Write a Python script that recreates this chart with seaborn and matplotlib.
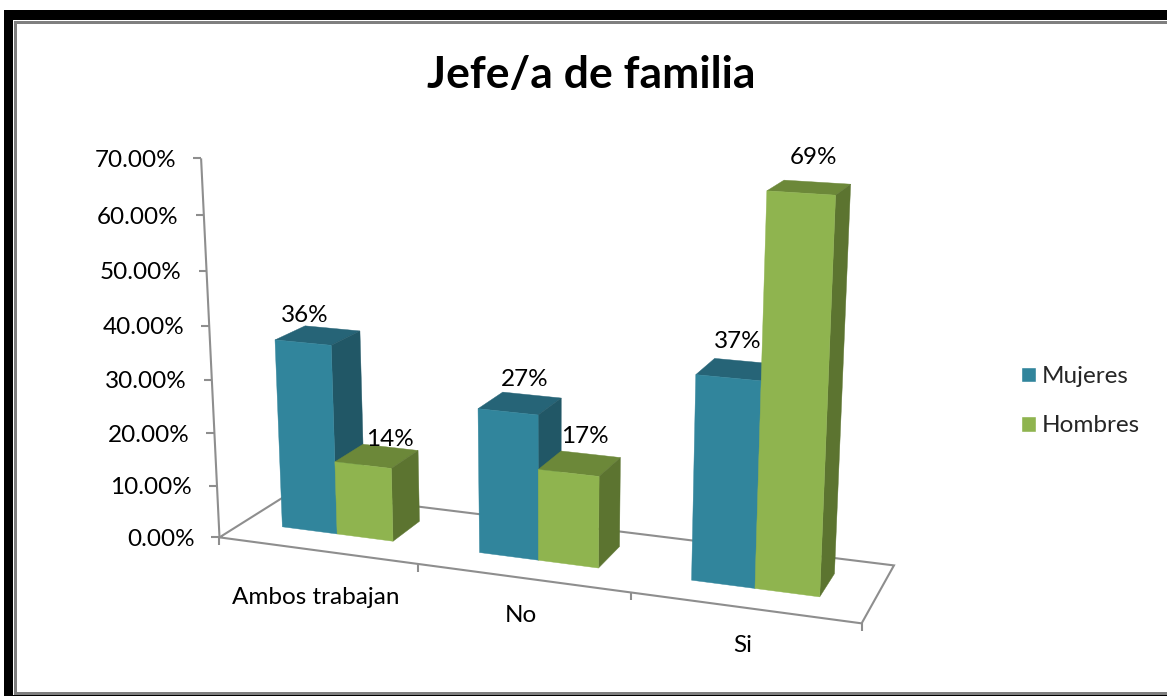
import numpy as np
import pandas as pd
import matplotlib
matplotlib.use("Agg")
import matplotlib.pyplot as plt
from matplotlib.patches import Polygon, Rectangle, Patch
import seaborn as sns

# Chart data
categories = ["Ambos trabajan", "No", "Si"]
series_names = ["Mujeres", "Hombres"]
mujeres = [36, 27, 37]
hombres = [14, 17, 69]
y_ticks = [0, 10, 20, 30, 40, 50, 60, 70]

# Styling
FRONT = ["#31859C", "#8FB44F"]
TOP = ["#266477", "#6C8839"]
SIDE = ["#215766", "#5C7430"]
AXIS = "#8E8E8E"
FONT = "Lato"
TEXT_SIZE = 17.5

sns.set_theme(style="white")
plt.rcParams["font.family"] = [FONT, "DejaVu Sans"]

W, H = 1167, 696
fig = plt.figure(figsize=(W / 100, H / 100), dpi=100, facecolor="white")

# Seaborn lays out the grouped bars on a hidden axes; their geometry feeds the 3D view.
df = pd.DataFrame({
    "categoria": categories * 2,
    "sexo": np.repeat(series_names, 3),
    "valor": mujeres + hombres,
})
ax_bars = fig.add_axes([0, 0, 0.1, 0.1])
sns.barplot(data=df, x="categoria", y="valor", hue="sexo", order=categories,
            hue_order=series_names, palette=FRONT, width=0.57, errorbar=None,
            legend=False, ax=ax_bars)
ax_bars.set_visible(False)

# Canvas in pixel units, origin at the top left
ax = fig.add_axes([0, 0, 1, 1])
ax.set_xlim(0, W)
ax.set_ylim(H, 0)
ax.axis("off")

# Perspective camera: (category position, depth, value) -> canvas, solved from the frame's corners
frame_world = [(0, 0, 0), (0, 0, 10), (0, 0, 20), (0, 0, 30), (0, 0, 40), (0, 0, 50), (0, 0, 60), (0, 0, 70),
               (1, 0, 0), (2, 0, 0), (3, 0, 0), (3, 1, 0), (0, 1, 0), (3, 0, 70)]
frame_view = [(220, 537), (217, 485), (214.5, 433), (212, 380), (209, 326), (206.5, 271), (204, 215), (201, 158),
              (417, 565), (631, 593), (862, 622.7), (894, 565), (293, 491.5), (881, 202)]
rows, rhs = [], []
for (X, Z, Y), (u, v) in zip(frame_world, frame_view):
    rows.append([X, Z, Y, 1, 0, 0, 0, 0, -u * X, -u * Z, -u * Y])
    rhs.append(u)
    rows.append([0, 0, 0, 0, X, Z, Y, 1, -v * X, -v * Z, -v * Y])
    rhs.append(v)
camera = np.append(np.linalg.lstsq(np.array(rows, float), np.array(rhs, float), rcond=None)[0], 1).reshape(3, 4)


def project(X, Z, Y):
    p = camera @ np.array([X, Z, Y, 1.0])
    return p[0] / p[2], p[1] / p[2]


def line(*pts, **kw):
    xs, ys = zip(*pts)
    ax.plot(xs, ys, color=AXIS, lw=1.5, solid_capstyle="butt", solid_joinstyle="miter", zorder=2, **kw)


# Frame around the plot
ax.add_patch(Rectangle((4, 10), W - 4, H - 10, fc="black", ec="none", zorder=0))
ax.add_patch(Rectangle((13, 20), W - 13, H - 20 - 1, fc="white", ec="none", zorder=0))
ax.add_patch(Rectangle((14, 21), W - 14, H - 21 - 1, fc="#7F7F7F", ec="none", zorder=0))
ax.add_patch(Rectangle((16.5, 23.5), W - 16.5, H - 23.5 - 4, fc="white", ec="none", zorder=0))

# Floor outline, value axis, ticks
n = len(categories)
line(project(0, 0, 0), project(n, 0, 0), project(n, 1, 0), project(0, 1, 0), project(0, 0, 0))
line(project(0, 0, 0), project(0, 0, y_ticks[-1]))
for t in y_ticks:
    u, v = project(0, 0, t)
    line((u - 8, v), (u, v))
    ax.text(u - 25, v + 2, f"{t:.2f}%", ha="right", va="center", fontsize=TEXT_SIZE, color="black")
for i in range(n + 1):
    u, v = project(i, 0, 0)
    line((u, v), (u, v + 8))

# Bars: top, side and front faces, left to right
Z0, Z1 = 0.32, 0.73
BAR_ORIGIN = 0.487
label_offsets = [[(-13.5, -20), (13.5, -17)], [(4.5, -24), (5.5, -27)], [(0.5, -28), (4.5, -30)]]
for s, container in enumerate(ax_bars.containers):
    for i, patch in enumerate(container.patches):
        x0 = patch.get_x() + BAR_ORIGIN
        x1 = x0 + patch.get_width()
        val = patch.get_height()
        z = 3 + i * 2 + s
        faces = [
            ([(x0, Z0, val), (x1, Z0, val), (x1, Z1, val), (x0, Z1, val)], TOP[s]),
            ([(x1, Z0, 0), (x1, Z1, 0), (x1, Z1, val), (x1, Z0, val)], SIDE[s]),
            ([(x0, Z0, 0), (x1, Z0, 0), (x1, Z0, val), (x0, Z0, val)], FRONT[s]),
        ]
        for verts, col in faces:
            ax.add_patch(Polygon([project(*p) for p in verts], closed=True, fc=col, ec=col, lw=0.3, zorder=z))
        cu, cv = project((x0 + x1) / 2, (Z0 + Z1) / 2, val)
        du, dv = label_offsets[i][s]
        ax.text(cu + du, cv + dv, f"{val:.0f}%", ha="center", va="center", fontsize=TEXT_SIZE, color="black", zorder=20)

# Category labels
for name, (u, v) in zip(categories, [(316, 597), (521, 615), (743, 645)]):
    ax.text(u, v, name, ha="center", va="center", fontsize=TEXT_SIZE, color="black")

ax.text(591, 75, "Jefe/a de familia", ha="center", va="center", fontsize=32, fontweight="bold", color="black")

# Legend
ax.legend(handles=[Patch(fc=c, label=l) for c, l in zip(FRONT, series_names)],
          loc="upper left", bbox_to_anchor=(1021 / W, 1 - 366 / H), frameon=False, fontsize=TEXT_SIZE,
          handlelength=0.62, handleheight=0.62, handletextpad=0.22, labelspacing=1.17,
          borderpad=0, borderaxespad=0)

fig.savefig("out.png", dpi=100, facecolor="white")
